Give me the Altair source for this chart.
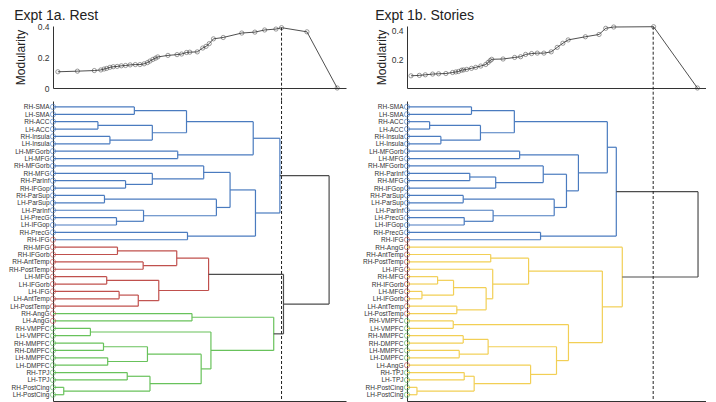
import altair as alt
import pandas as pd

FONT = "Liberation Sans"

# ---------------- Expt 1a. Rest ----------------
rest_title = "Expt 1a. Rest"
rest_labels = ["RH-SMA", "LH-SMA", "RH-ACC", "LH-ACC", "RH-Insula", "LH-Insula",
               "LH-MFGorb", "LH-MFG", "RH-MFGorb", "RH-MFG", "RH-ParInf", "RH-IFGop",
               "RH-ParSup", "LH-ParSup", "LH-ParInf", "LH-PrecG", "LH-IFGop", "RH-PrecG",
               "RH-IFG", "RH-MFG", "RH-IFGorb", "RH-AntTemp", "RH-PostTemp", "LH-MFG",
               "LH-IFGorb", "LH-IFG", "LH-AntTemp", "LH-PostTemp", "RH-AngG", "LH-AngG",
               "RH-VMPFC", "LH-VMPFC", "RH-MMPFC", "RH-DMPFC", "LH-MMPFC", "LH-DMPFC",
               "RH-TPJ", "LH-TPJ", "RH-PostCing", "LH-PostCing"]
rest_network = ["MD", "MD", "MD", "MD", "MD", "MD", "MD", "MD", "MD", "MD",
                "MD", "MD", "MD", "MD", "MD", "MD", "MD", "MD", "L", "L",
                "L", "L", "L", "L", "L", "L", "L", "L", "L", "L",
                "D", "D", "D", "D", "D", "D", "D", "D", "D", "D"]
# merges: (child a, child b, linkage distance); ids >= 40 refer to earlier merges
rest_merges = [(0, 1, 83.3), (2, 3, 46.0), (4, 5, 58.3), (41, 42, 101.7), (40, 43, 136.7),
               (6, 7, 127.7), (44, 45, 205.0), (10, 11, 74.3), (9, 47, 101.7), (8, 48, 154.3),
               (12, 13, 52.7), (15, 16, 65.0), (14, 51, 92.7), (50, 52, 167.3), (49, 53, 181.3),
               (17, 18, 137.7), (54, 55, 207.3), (46, 56, 232.3),
               (19, 20, 66.0), (21, 22, 92.3), (58, 59, 126.7), (23, 24, 55.0), (25, 26, 67.7),
               (62, 27, 87.3), (61, 63, 108.3), (60, 64, 159.3),
               (28, 29, 142.3), (30, 31, 38.3), (32, 33, 51.7), (34, 35, 56.0), (68, 69, 96.7),
               (36, 37, 76.0), (38, 39, 11.0), (71, 72, 99.3), (70, 73, 151.7), (67, 74, 161.7),
               (66, 75, 226.0), (65, 76, 236.0), (57, 77, 282.7)]
rest_cut = 234.0
rest_palette = ["#4a7bbf", "#c0504d", "#68c25b"]
rest_mod_d = [5, 25, 42.3, 49, 52.3, 55, 58.3, 61.7, 65.7, 70, 74.3, 79, 84.3, 89, 93.3,
              96.7, 99.3, 102.3, 105, 107.3, 117.7, 127, 131.7, 136.7, 140, 147.7, 153.3,
              156.7, 160, 164.3, 174.3, 193.3, 206.7, 216.7, 228.3, 234, 260, 291]
rest_mod_q = [0.106, 0.110, 0.114, 0.118, 0.124, 0.128, 0.135, 0.139, 0.141, 0.145, 0.147,
              0.151, 0.153, 0.153, 0.158, 0.166, 0.176, 0.187, 0.195, 0.203, 0.213, 0.218,
              0.222, 0.232, 0.234, 0.236, 0.261, 0.272, 0.290, 0.321, 0.330, 0.359, 0.365,
              0.379, 0.385, 0.394, 0.367, 0.0]
rest_ymax = 0.405
rest_yticks = [0, 0.2, 0.4]

# ---------------- Expt 1b. Stories ----------------
stories_title = "Expt 1b. Stories"
stories_labels = ["RH-SMA", "LH-SMA", "RH-ACC", "LH-ACC", "RH-Insula", "LH-Insula",
                  "LH-MFGorb", "LH-MFG", "RH-MFGorb", "RH-ParInf", "RH-MFG", "RH-IFGop",
                  "RH-ParSup", "LH-ParSup", "LH-ParInf", "LH-PrecG", "LH-IFGop", "RH-PrecG",
                  "RH-IFG", "RH-AngG", "RH-AntTemp", "RH-PostTemp", "LH-IFG", "RH-MFG",
                  "RH-IFGorb", "LH-MFG", "LH-IFGorb", "LH-AntTemp", "LH-PostTemp", "RH-VMPFC",
                  "LH-VMPFC", "RH-MMPFC", "RH-DMPFC", "LH-MMPFC", "LH-DMPFC", "LH-AngG",
                  "RH-TPJ", "LH-TPJ", "RH-PostCing", "LH-PostCing"]
stories_network = ["MD", "MD", "MD", "MD", "MD", "MD", "MD", "MD", "MD", "MD",
                   "MD", "MD", "MD", "MD", "MD", "MD", "MD", "MD", "L", "L",
                   "L", "L", "L", "L", "L", "L", "L", "L", "L", "D",
                   "D", "D", "D", "D", "D", "L", "D", "D", "D", "D"]
stories_merges = [(0, 1, 64.7), (2, 3, 22.7), (4, 5, 34.0), (41, 42, 73.7), (40, 43, 107.7),
                  (6, 7, 113.0), (9, 10, 63.0), (46, 11, 89.0), (8, 47, 136.7), (12, 13, 56.4),
                  (15, 16, 57.4), (14, 50, 86.4), (49, 51, 147.7), (48, 52, 160.0), (45, 53, 172.0),
                  (44, 54, 201.0), (17, 18, 134.0), (55, 56, 210.0),
                  (20, 21, 84.0), (23, 24, 30.7), (25, 26, 15.0), (59, 60, 46.7), (27, 28, 50.0),
                  (61, 62, 79.4), (22, 63, 86.0), (58, 64, 122.0), (29, 30, 46.4), (31, 32, 56.4),
                  (33, 34, 52.4), (67, 68, 81.4), (36, 37, 57.4), (38, 39, 10.0), (70, 71, 67.4),
                  (35, 72, 124.0), (69, 73, 150.0), (66, 74, 162.0), (65, 75, 196.0),
                  (19, 76, 216.0), (57, 77, 292.0)]
stories_cut = 247.0
stories_palette = ["#4a7bbf", "#f2cf55"]
stories_mod_d = [4, 12.4, 18.4, 25.7, 31.7, 39, 45.7, 49, 51.7, 54.7, 56.7, 60, 64.7, 69, 74,
                 79, 81.4, 83.4, 85, 96.4, 108, 114, 119, 125, 130.7, 137.4, 144.7, 150.7,
                 156.4, 161.7, 179, 192.7, 199.4, 207.4, 247.4, 291.4]
stories_mod_q = [0.085, 0.088, 0.092, 0.097, 0.099, 0.101, 0.108, 0.112, 0.115, 0.124, 0.126,
                 0.130, 0.137, 0.144, 0.153, 0.164, 0.178, 0.191, 0.200, 0.202, 0.213, 0.218,
                 0.234, 0.240, 0.243, 0.243, 0.252, 0.283, 0.312, 0.335, 0.357, 0.373, 0.416,
                 0.425, 0.427, 0.0]
stories_ymax = 0.432
stories_yticks = [0.2, 0.4]

network_colors = {"MD": "#4a7bbf", "L": "#c0504d", "D": "#5cb85c"}
ABOVE = "#4d4d4d"
X_DOMAIN = [0, 300]
MOD_H = 62
DEN_H = 300
GAP = 13


def link_table(merges, cut, palette, n):
    ys = [float(i) for i in range(n)]
    hs = [0.0] * n
    children = {}
    for k, (a, b, h) in enumerate(merges):
        ys.append((ys[a] + ys[b]) / 2.0)
        hs.append(h)
        children[n + k] = (a, b)
    parent = {}
    for node, (a, b) in children.items():
        parent[a] = node
        parent[b] = node

    def leaves(v):
        return [v] if v < n else leaves(children[v][0]) + leaves(children[v][1])

    total = n + len(merges)
    roots = [v for v in range(total)
             if hs[v] < cut and (v not in parent or hs[parent[v]] >= cut)]
    roots.sort(key=lambda v: min(leaves(v)))
    color_of = {}
    for ci, r in enumerate(roots):
        stack = [r]
        while stack:
            v = stack.pop()
            color_of[v] = palette[ci % len(palette)]
            if v in children:
                stack.extend(children[v])
    rows = []
    for node, (a, b) in children.items():
        h = hs[node]
        c = color_of.get(node, ABOVE)
        rows.append(dict(x=hs[a], x2=h, y=ys[a], y2=ys[a], c=c))
        rows.append(dict(x=h, x2=h, y=ys[a], y2=ys[b], c=c))
        rows.append(dict(x=hs[b], x2=h, y=ys[b], y2=ys[b], c=c))
    return pd.DataFrame(rows)


def panel(title, labels, network, merges, cut, palette, mod_d, mod_q, ymax, yticks,
          width, tpad):
    n = len(labels)
    xs = alt.Scale(domain=X_DOMAIN, nice=False, zero=False)
    x_axis = alt.Axis(labels=False, ticks=False, title=None, grid=False,
                      domainColor="#333", domainWidth=1)

    # ---- modularity curve ----
    mod_df = pd.DataFrame({"d": mod_d, "q": mod_q})
    ysc = alt.Scale(domain=[0, ymax], nice=False, zero=False)
    mod_y_axis = alt.Axis(values=yticks, title="Modularity", grid=False, ticks=False,
                          labelFontSize=8.5, labelColor="#333", labelPadding=4,
                          labelOverlap=False, labelFlush=False,
                          titleFontSize=12, titleFontWeight="normal", titleColor="#222",
                          titlePadding=tpad, domainColor="#333", domainWidth=1,
                          format="~g")
    line = alt.Chart(mod_df).mark_line(color="#222", strokeWidth=0.8).encode(
        x=alt.X("d:Q", scale=xs, axis=x_axis),
        y=alt.Y("q:Q", scale=ysc, axis=mod_y_axis))
    pts = alt.Chart(mod_df).mark_point(shape="circle", filled=False, size=18,
                                       color="#333", strokeWidth=0.7).encode(
        x=alt.X("d:Q", scale=xs, axis=x_axis),
        y=alt.Y("q:Q", scale=ysc, axis=mod_y_axis))
    ext = -ymax * GAP / MOD_H
    cut_df = pd.DataFrame({"d": [cut], "top": [max(mod_q)], "bot": [ext]})
    cut_rule = alt.Chart(cut_df).mark_rule(color="#222", strokeWidth=1,
                                           strokeDash=[3, 2]).encode(
        x=alt.X("d:Q", scale=xs, axis=x_axis),
        y=alt.Y("top:Q", scale=ysc, axis=mod_y_axis), y2="bot:Q")
    mod = alt.layer(line, pts, cut_rule).properties(
        width=width, height=MOD_H,
        title=alt.TitleParams(title, anchor="start", fontSize=14, font=FONT,
                              fontWeight="normal", color="#222", offset=0))

    # ---- dendrogram ----
    seg = link_table(merges, cut, palette, n)
    yd = alt.Scale(domain=[-0.8, n - 1 + 0.85], reverse=True, nice=False, zero=False)
    label_expr = "[" + ",".join("'" + s + "'" for s in labels) + "][datum.value]"
    den_y_axis = alt.Axis(values=list(range(n)), labelExpr=label_expr, title=None,
                          grid=False, ticks=False, labelFontSize=6.5,
                          labelColor="#333", labelPadding=4, labelOverlap=False,
                          labelFlush=False, labelBound=False,
                          domainColor="#333", domainWidth=1)
    links = alt.Chart(seg).mark_rule(strokeWidth=1.2).encode(
        x=alt.X("x:Q", scale=xs, axis=x_axis),
        x2="x2:Q",
        y=alt.Y("y:Q", scale=yd, axis=den_y_axis),
        y2="y2:Q",
        color=alt.Color("c:N", scale=None))
    leaf_df = pd.DataFrame({"y": list(range(n)), "x": [0.0] * n,
                            "c": [network_colors[k] for k in network]})
    leaf_pts = alt.Chart(leaf_df).mark_point(shape="circle", filled=False, size=28,
                                             strokeWidth=0.9).encode(
        x=alt.X("x:Q", scale=xs, axis=x_axis),
        y=alt.Y("y:Q", scale=yd, axis=den_y_axis),
        color=alt.Color("c:N", scale=None))
    dcut = alt.Chart(pd.DataFrame({"x": [cut]})).mark_rule(
        color="#222", strokeWidth=1, strokeDash=[3, 2]).encode(
        x=alt.X("x:Q", scale=xs, axis=x_axis))
    den = alt.layer(links, leaf_pts, dcut).properties(width=width, height=DEN_H)
    return mod, den


mod_l, den_l = panel(rest_title, rest_labels, rest_network, rest_merges, rest_cut,
                     rest_palette, rest_mod_d, rest_mod_q, rest_ymax, rest_yticks, 293, 10)
mod_r, den_r = panel(stories_title, stories_labels, stories_network, stories_merges,
                     stories_cut, stories_palette, stories_mod_d, stories_mod_q,
                     stories_ymax, stories_yticks, 299, 3)

chart = alt.concat(mod_l, mod_r, den_l, den_r, columns=2, align="each", bounds="flush",
                   spacing={"row": GAP, "column": 61}).properties(padding=0).configure_view(
    stroke=None).configure_axis(labelFont=FONT, titleFont=FONT, labelOverlap=False)

chart.save("out.html", embed_options={"renderer": "svg", "actions": False})
